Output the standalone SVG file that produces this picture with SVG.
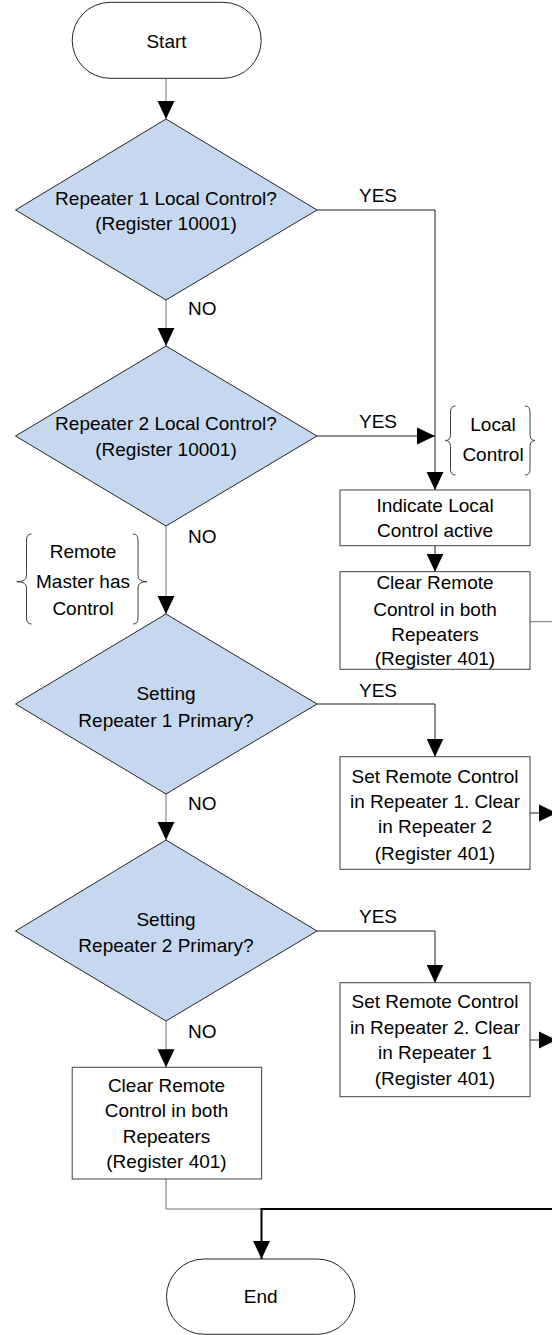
<svg xmlns="http://www.w3.org/2000/svg" width="552" height="1335" viewBox="0 0 552 1335">
<style>
text{font-family:"Liberation Sans",Arial,sans-serif;font-size:19px;fill:#000;text-anchor:middle}
.lbl{text-anchor:start}
.term{fill:#fff;stroke:#262626;stroke-width:1}
.dec{fill:#c6d8ef;stroke:#262626;stroke-width:1}
.box{fill:#fff;stroke:#404040;stroke-width:1}
.brace{fill:none;stroke:#404040;stroke-width:1}
.c{fill:none;stroke:#1a1a1a;stroke-width:1}
.g{fill:none;stroke:#707070;stroke-width:1}
.t{fill:none;stroke:#000;stroke-width:2}
</style>
<defs>
<marker id="ah" markerUnits="userSpaceOnUse" markerWidth="18" markerHeight="18" viewBox="0 0 17 16" refX="17" refY="8" orient="auto">
<path d="M0,0 L17,8 L0,16 z" fill="#000"/>
</marker>
</defs>
<g id="connectors">
<path class="g" d="M166,78.3 V119" marker-end="url(#ah)"/>
<path class="c" d="M317,210 H435 V490" marker-end="url(#ah)"/>
<path class="g" d="M166,300 V346" marker-end="url(#ah)"/>
<path class="c" d="M317,436 H435" marker-end="url(#ah)"/>
<path class="g" d="M166,526 V614" marker-end="url(#ah)"/>
<path class="c" d="M435,545.7 V571.7" marker-end="url(#ah)"/>
<path class="g" d="M530,621.7 H552"/>
<path class="c" d="M317,704 H435 V756.7" marker-end="url(#ah)"/>
<path class="g" d="M166,794 V840" marker-end="url(#ah)"/>
<path class="c" d="M530,813 H557" marker-end="url(#ah)"/>
<path class="c" d="M317,931 H435 V982.7" marker-end="url(#ah)"/>
<path class="g" d="M166,1021 V1067.3" marker-end="url(#ah)"/>
<path class="c" d="M530,1040 H557" marker-end="url(#ah)"/>
<path class="g" d="M166,1179 V1209 H261.5"/>
<path class="t" d="M553,1209 H261.5 V1259" marker-end="url(#ah)"/>
</g>
<g id="start">
<rect class="term" x="72.2" y="2.3" width="189" height="76" rx="38" ry="38"/>
<text x="166.5" y="47.5">Start</text>
</g>
<g id="d1">
<polygon class="dec" points="166,119 317,210 166,300 15.5,210"/>
<text x="166" y="204.8">Repeater 1 Local Control?</text>
<text x="166" y="229.8">(Register 10001)</text>
</g>
<g id="yes1"><text class="lbl" x="359" y="201.5">YES</text></g>
<g id="no1"><text class="lbl" x="188" y="314.8">NO</text></g>
<g id="d2">
<polygon class="dec" points="166,346 317,436 166,526 15.5,436"/>
<text x="166" y="429.8">Repeater 2 Local Control?</text>
<text x="166" y="455.8">(Register 10001)</text>
</g>
<g id="yes2"><text class="lbl" x="359" y="428.2">YES</text></g>
<g id="localcontrol">
<path class="brace" d="M455.5,406 Q450.5,406 450.5,412 L450.5,434.5 Q450.5,440.5 445.3,440.5 Q450.5,440.5 450.5,446.5 L450.5,469 Q450.5,475 455.5,475"/>
<path class="brace" d="M525,406 Q530,406 530,412 L530,434.5 Q530,440.5 535,440.5 Q530,440.5 530,446.5 L530,469 Q530,475 525,475"/>
<text x="493" y="430.8">Local</text>
<text x="493" y="460.5">Control</text>
</g>
<g id="no2"><text class="lbl" x="188" y="543.2">NO</text></g>
<g id="remotemaster">
<path class="brace" d="M31.5,534 Q26.5,534 26.5,540 L26.5,575.7 Q26.5,581.7 16.7,581.7 Q26.5,581.7 26.5,587.7 L26.5,618 Q26.5,624 31.5,624"/>
<path class="brace" d="M133,534 Q138,534 138,540 L138,575.7 Q138,581.7 147,581.7 Q138,581.7 138,587.7 L138,618 Q138,624 133,624"/>
<text x="83" y="558.2">Remote</text>
<text x="83" y="588.2">Master has</text>
<text x="83" y="614.8">Control</text>
</g>
<g id="indicate">
<rect class="box" x="340" y="490" width="190" height="55.7"/>
<text x="435" y="511.5">Indicate Local</text>
<text x="435" y="537.2">Control active</text>
</g>
<g id="clear1">
<rect class="box" x="340" y="571.7" width="190" height="97.6"/>
<text x="435" y="588.8">Clear Remote</text>
<text x="435" y="615.5">Control in both</text>
<text x="435" y="640.5">Repeaters</text>
<text x="435" y="664.8">(Register 401)</text>
</g>
<g id="d3">
<polygon class="dec" points="166,614 317,704 166,794 15.5,704"/>
<text x="166" y="699.8">Setting</text>
<text x="166" y="726.5">Repeater 1 Primary?</text>
</g>
<g id="yes3"><text class="lbl" x="359" y="696.5">YES</text></g>
<g id="no3"><text class="lbl" x="188" y="809.8">NO</text></g>
<g id="set1">
<rect class="box" x="340" y="756.7" width="190" height="112.6"/>
<text x="435" y="783.2">Set Remote Control</text>
<text x="435" y="808.2">in Repeater 1. Clear</text>
<text x="435" y="833.2">in Repeater 2</text>
<text x="435" y="859.8">(Register 401)</text>
</g>
<g id="d4">
<polygon class="dec" points="166,840 317,931 166,1021 15.5,931"/>
<text x="166" y="925.8">Setting</text>
<text x="166" y="951.5">Repeater 2 Primary?</text>
</g>
<g id="yes4"><text class="lbl" x="359" y="923.2">YES</text></g>
<g id="no4"><text class="lbl" x="188" y="1038.2">NO</text></g>
<g id="set2">
<rect class="box" x="340" y="982.7" width="190" height="114"/>
<text x="435" y="1008.2">Set Remote Control</text>
<text x="435" y="1033.8">in Repeater 2. Clear</text>
<text x="435" y="1059.2">in Repeater 1</text>
<text x="435" y="1084.8">(Register 401)</text>
</g>
<g id="clear2">
<rect class="box" x="72.2" y="1067.3" width="189.4" height="111.7"/>
<text x="166.5" y="1091.5">Clear Remote</text>
<text x="166.5" y="1117.2">Control in both</text>
<text x="166.5" y="1142.5">Repeaters</text>
<text x="166.5" y="1168.2">(Register 401)</text>
</g>
<g id="end">
<rect class="term" x="166.5" y="1259" width="188.4" height="75.3" rx="37.6" ry="37.6"/>
<text x="260.7" y="1303.2">End</text>
</g>
</svg>
